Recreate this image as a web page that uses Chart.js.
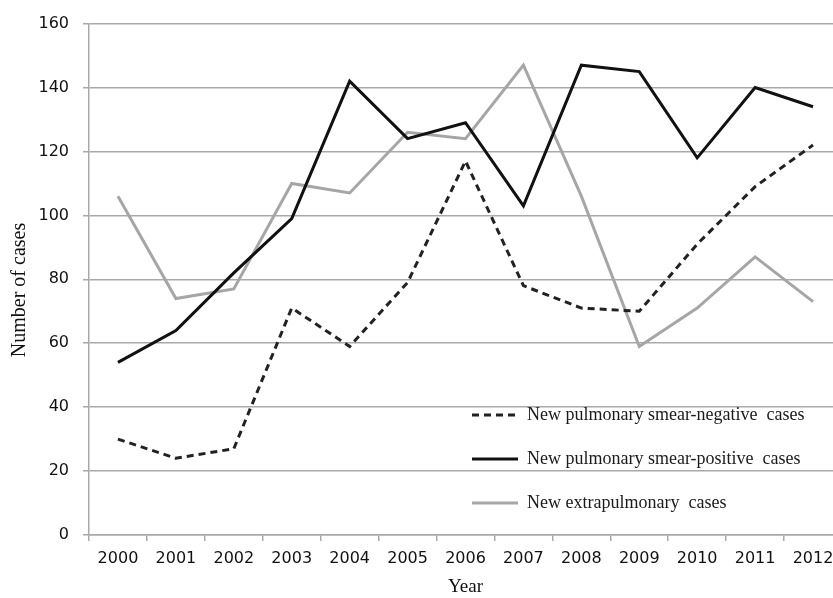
<!DOCTYPE html>
<html>
<head>
<meta charset="utf-8">
<title>New TB cases 2000-2012</title>
<script src="https://cdn.jsdelivr.net/npm/chart.js@4/dist/chart.umd.min.js"></script>
<style>
    html, body { margin: 0; padding: 0; background: #fff; overflow: hidden; }
    #wrap { width: 850px; height: 598px; }
</style>
</head>
<body>
<div id="wrap"><canvas id="casesChart" width="850" height="598"></canvas></div>
<script>
// data
const years = ['2000', '2001', '2002', '2003', '2004', '2005', '2006', '2007', '2008', '2009', '2010', '2011', '2012'];
const smearNegative = [30, 24, 27, 71, 59, 79, 117, 78, 71, 70, 91, 109, 122];
const smearPositive = [54, 64, 82, 99, 142, 124, 129, 103, 147, 145, 118, 140, 134];
const extrapulmonary = [106, 74, 77, 110, 107, 126, 124, 147, 106, 59, 71, 87, 73];
const yTicks = [0, 20, 40, 60, 80, 100, 120, 140, 160];

const gridGray = '#a9a9a9';
const serif = '"Liberation Serif", "Times New Roman", serif';
const sans = '"DejaVu Sans", Verdana, sans-serif';

// legend sits inside the plot, drawn by hand; y title drawn here too
// so it can sit a bit lower than the scale's centre like in the figure
const insideLegend = {
    id: 'insideLegend',
    afterDraw(chart) {
        const ctx = chart.ctx;
        const x0 = 472, y0 = 415, rowGap = 44, sampleLen = 46;
        ctx.save();
        ctx.font = '18px ' + serif;
        ctx.textBaseline = 'middle';
        ctx.fillStyle = '#1a1a1a';
        chart.data.datasets.forEach((ds, i) => {
            const y = y0 + i * rowGap;
            ctx.beginPath();
            ctx.strokeStyle = ds.borderColor;
            ctx.lineWidth = ds.borderWidth;
            ctx.setLineDash(ds.borderDash || []);
            ctx.moveTo(x0, y);
            ctx.lineTo(x0 + sampleLen, y);
            ctx.stroke();
            ctx.setLineDash([]);
            ctx.fillText(ds.label, x0 + sampleLen + 9, y);
        });

        // y axis title
        ctx.translate(20, 290);
        ctx.rotate(-Math.PI / 2);
        ctx.font = '20px ' + serif;
        ctx.textAlign = 'center';
        ctx.fillStyle = '#111';
        ctx.fillText('Number of cases', 0, 0);
        ctx.restore();
    }
};

new Chart(document.getElementById('casesChart'), {
    type: 'line',
    data: {
        labels: years,
        datasets: [
            {
                label: 'New pulmonary smear-negative  cases',
                data: smearNegative,
                borderColor: '#222',
                borderWidth: 3,
                borderDash: [7, 5]
            },
            {
                label: 'New pulmonary smear-positive  cases',
                data: smearPositive,
                borderColor: '#111',
                borderWidth: 3
            },
            {
                label: 'New extrapulmonary  cases',
                data: extrapulmonary,
                borderColor: '#a6a6a6',
                borderWidth: 3
            }
        ]
    },
    options: {
        responsive: false,
        animation: false,
        layout: { padding: { top: 16, right: 8, left: 0, bottom: 0 } },
        elements: {
            point: { radius: 0, hoverRadius: 0 },
            line: { tension: 0 }
        },
        plugins: {
            legend: { display: false },
            tooltip: { enabled: false }
        },
        scales: {
            x: {
                offset: true,
                grid: {
                    offset: true,
                    drawOnChartArea: false,
                    color: gridGray,
                    lineWidth: 1.5,
                    tickLength: 6
                },
                border: { color: gridGray, width: 1.5 },
                ticks: {
                    color: '#111',
                    font: { family: sans, size: 16 },
                    padding: 8,
                    maxRotation: 0,
                    autoSkip: false
                },
                title: {
                    display: true,
                    text: 'Year',
                    color: '#111',
                    font: { family: serif, size: 19 },
                    padding: { top: 1, bottom: 0 }
                },
                afterFit(scale) { scale.height = 63; }
            },
            y: {
                min: 0,
                max: 160,
                afterBuildTicks(scale) {
                    scale.ticks = yTicks.map(v => ({ value: v }));
                },
                grid: {
                    color: gridGray,
                    lineWidth: 1.5,
                    tickLength: 6
                },
                border: { color: gridGray, width: 1.5 },
                ticks: {
                    color: '#111',
                    font: { family: sans, size: 16 },
                    padding: 14
                },
                afterFit(scale) { scale.width = 89; }
            }
        }
    },
    plugins: [insideLegend]
});
</script>
</body>
</html>
